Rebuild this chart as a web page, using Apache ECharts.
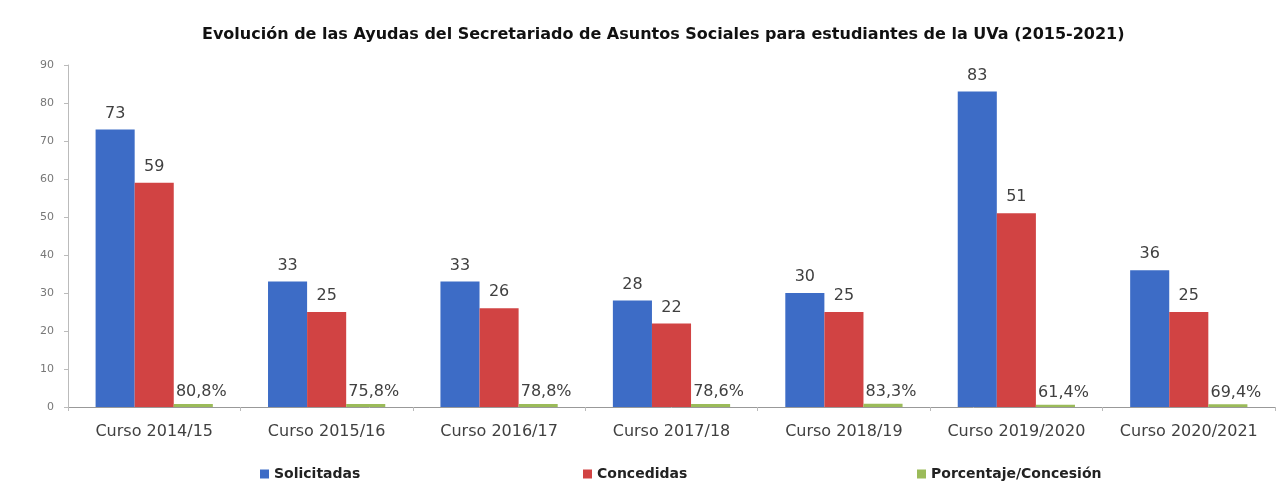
<!DOCTYPE html>
<html><head><meta charset="utf-8">
<script src="https://cdn.jsdelivr.net/npm/echarts@6/dist/echarts.min.js"></script>
<style>html,body{margin:0;padding:0;background:#fff}#c{width:1284px;height:483px}</style>
</head><body><div id="c"></div>
<script>
const categories = ['Curso 2014/15','Curso 2015/16','Curso 2016/17','Curso 2017/18','Curso 2018/19','Curso 2019/2020','Curso 2020/2021'];
const solicitadas = [73, 33, 33, 28, 30, 83, 36];
const concedidas = [59, 25, 26, 22, 25, 51, 25];
const porcentaje = [0.808, 0.758, 0.788, 0.786, 0.833, 0.614, 0.694];
const seriesNames = ['Solicitadas','Concedidas','Porcentaje/Concesión'];
const titleText = 'Evolución de las Ayudas del Secretariado de Asuntos Sociales para estudiantes de la UVa (2015-2021)';

const colors = ['#3D6CC6','#D14343','#9BBB59'];
const font = '"DejaVu Sans", sans-serif';
const chart = echarts.init(document.getElementById('c'));
const lbl = {show:true, position:'top', color:'#404040', fontSize:16, fontFamily:font, distance:8};
function legend(name, left){
  return {data:[name], left:left, top:462, itemWidth:9, itemHeight:9, icon:'rect',
    textStyle:{fontSize:14, fontWeight:'bold', color:'#222', fontFamily:font}};
}
chart.setOption({
  animation:false,
  color:colors,
  title:{text:titleText, left:197, top:22, textStyle:{fontSize:16, fontWeight:'bold', color:'#111', fontFamily:font}},
  legend:[legend(seriesNames[0],255), legend(seriesNames[1],578), legend(seriesNames[2],912)],
  grid:{left:68, right:9, top:65, bottom:76},
  xAxis:{type:'category', data:categories,
    axisLine:{lineStyle:{color:'#999'}},
    axisTick:{show:true, length:4, lineStyle:{color:'#bbb'}},
    axisLabel:{interval:0, hideOverlap:false, color:'#404040', fontSize:16, fontFamily:font, margin:17}},
  yAxis:{type:'value', min:0, max:90, interval:10,
    axisLine:{show:true, lineStyle:{color:'#bbb'}},
    axisTick:{show:true, length:4, lineStyle:{color:'#bbb'}},
    splitLine:{show:false},
    axisLabel:{color:'#777', fontSize:11, fontFamily:font, margin:14}},
  series:[
    {name:seriesNames[0], type:'bar', data:solicitadas, barGap:'0%', barCategoryGap:'32%', label:lbl},
    {name:seriesNames[1], type:'bar', data:concedidas, label:lbl},
    {name:seriesNames[2], type:'bar', data:porcentaje,
      label:Object.assign({}, lbl, {distance:4, offset:[8,0], formatter:p => (p.value*100).toFixed(1).replace('.',',')+'%'})}
  ]
});
</script></body></html>
